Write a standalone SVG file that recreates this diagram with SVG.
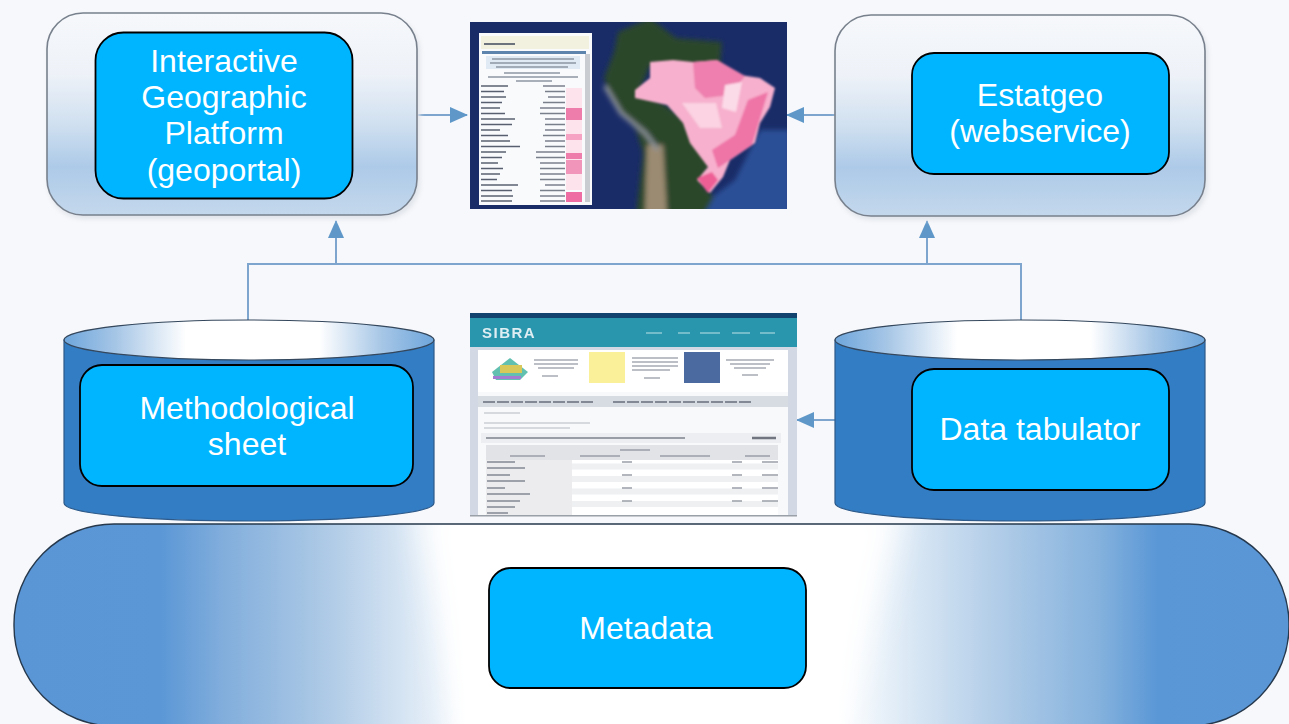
<svg xmlns="http://www.w3.org/2000/svg" width="1289" height="724" viewBox="0 0 1289 724">
<style>
.box{fill:#00b5ff;stroke:#000;stroke-width:1.800}
.lbl{font-family:"Liberation Sans",Arial,sans-serif;font-size:32px;fill:#fff;text-anchor:middle}
.panel{fill:url(#panelG);stroke:#77808c;stroke-width:1.600}
.capE{fill:url(#topG);stroke:#34475c;stroke-width:1.200}
.cyl{fill:#337dc4;stroke:#2d5a8a;stroke-width:1.200}
.conn{fill:none;stroke:#7ea5cd;stroke-width:2}
.arr{marker-end:url(#ah)}
.shadow{fill:#e0e4ea;filter:url(#softer)}
</style>
<defs>
<linearGradient id="panelG" x1="0" y1="0" x2="0" y2="1">
<stop offset="0" stop-color="#f6f8fb"/><stop offset=".3" stop-color="#eef2f8"/><stop offset=".55" stop-color="#d0e0f0"/><stop offset=".76" stop-color="#adcae8"/><stop offset="1" stop-color="#c4d8ec"/>
</linearGradient>
<linearGradient id="topG" x1="0" y1="0" x2="1" y2="0">
<stop offset="0" stop-color="#6ea6dc"/><stop offset=".14" stop-color="#a6c6e6"/><stop offset=".33" stop-color="#ffffff"/><stop offset=".69" stop-color="#ffffff"/><stop offset=".86" stop-color="#a6c6e6"/><stop offset="1" stop-color="#6ea6dc"/>
</linearGradient>
<linearGradient id="capG" gradientUnits="userSpaceOnUse" x1="14" y1="0" x2="1289" y2="0">
<stop offset="0" stop-color="#5a96d6"/><stop offset=".115" stop-color="#5b97d6"/><stop offset=".165" stop-color="#82aedc"/><stop offset=".245" stop-color="#aecae6"/><stop offset=".33" stop-color="#e6eff8"/><stop offset=".355" stop-color="#ffffff"/><stop offset=".645" stop-color="#ffffff"/><stop offset=".69" stop-color="#e2edf7"/><stop offset=".77" stop-color="#b2cde8"/><stop offset=".85" stop-color="#85b2dd"/><stop offset=".897" stop-color="#5a97d6"/><stop offset="1" stop-color="#5a96d6"/>
</linearGradient>
<clipPath id="capClip"><rect x="14" y="524" width="1275" height="202" rx="100"/></clipPath>
<clipPath id="mapClip"><rect x="470" y="22" width="317" height="187"/></clipPath>
<marker id="ah" markerUnits="userSpaceOnUse" markerWidth="18" markerHeight="16" refX="17" refY="8" orient="auto">
<path d="M0 0L18 8L0 16Z" fill="#5f97c9"/>
</marker>
<filter id="faint" x="-5%" y="-5%" width="110%" height="110%"><feGaussianBlur stdDeviation=".7"/></filter>
<filter id="soft" x="-5%" y="-5%" width="110%" height="110%"><feGaussianBlur stdDeviation="1.200"/></filter>
<filter id="softer" x="-5%" y="-5%" width="110%" height="110%"><feGaussianBlur stdDeviation="2.500"/></filter>
<filter id="wide" x="-20%" y="-20%" width="140%" height="140%"><feGaussianBlur stdDeviation="16"/></filter>
</defs>
<rect width="1289" height="724" fill="#f7f8fb"/>

<g id="connectors">
<path class="conn" d="M248 322V264H1021V322"/>
<path class="conn arr" d="M336 264V221"/>
<path class="conn arr" d="M927 264V221"/>
<path class="conn arr" d="M418 115H467"/>
<path class="conn arr" d="M835 115H787"/>
<path class="conn arr" d="M835 420H797"/>
</g>

<g id="geoportal">
<rect class="shadow" x="48" y="16" width="372" height="203" rx="36"/>
<rect class="panel" x="47" y="13" width="370" height="202" rx="36"/>
<rect class="box" x="95.500" y="32.500" width="257" height="166" rx="28"/>
<text class="lbl" x="224" y="72">Interactive</text>
<text class="lbl" x="224" y="108">Geographic</text>
<text class="lbl" x="224" y="144">Platform</text>
<text class="lbl" x="224" y="181">(geoportal)</text>
</g>

<g id="estatgeo">
<rect class="shadow" x="836" y="18" width="372" height="202" rx="36"/>
<rect class="panel" x="835" y="15" width="370" height="201" rx="36"/>
<rect class="box" x="912" y="53" width="257" height="121" rx="22"/>
<text class="lbl" x="1040" y="106">Estatgeo</text>
<text class="lbl" x="1040" y="142">(webservice)</text>
</g>

<g id="map-image">
<rect x="470" y="22" width="317" height="187" fill="#1a2c68"/>
<g clip-path="url(#mapClip)">
<g filter="url(#softer)">
<path d="M700 215L790 215L790 130L760 130L735 180L715 195Z" fill="#2a4f96"/>
<path d="M618 32L650 18L676 38L722 42L720 66L650 66L640 90L664 104L692 124L712 165L702 183L714 197L704 215L636 215L643 153L636 130L612 100L604 78L614 52Z" fill="#29472c"/>
<path d="M647 145L663 145L667 215L645 215Z" fill="#9b8b72"/>
<path d="M605 86L621 113L645 133L658 150" stroke="#8b9198" stroke-width="4" fill="none"/>
</g>
<g filter="url(#soft)">
<path d="M635 90L650 78L650 62L673 60L693 62L717 60L740 75L760 78L775 88L770 107L760 123L755 143L730 160L723 177L710 193L697 180L708 167L690 143L683 123L667 105L635 98Z" fill="#f7b0cd"/>
<path d="M693 62L717 60L745 76L730 95L705 98L695 88Z" fill="#ee7fae"/>
<path d="M748 100L768 92L758 125L752 145L730 160L718 168L712 150L735 135Z" fill="#ef74a7"/>
<path d="M697 178L712 172L718 180L708 193Z" fill="#ee5f96"/>
<path d="M725 85L742 82L736 112L722 108Z" fill="#fcdbe8"/>
<path d="M682 103L716 103L722 128L700 128Z" fill="#fbd3e2"/>
</g>
</g>
<g filter="url(#faint)">
<rect x="479" y="33" width="113" height="172" fill="#f8fafc"/>
<rect x="481" y="36" width="108" height="13" fill="#f2f1df"/>
<path d="M484 44H515" stroke="#6d737c" stroke-width="2"/>
<rect x="482" y="51" width="104" height="3" fill="#5c84ad"/>
<rect x="486" y="56" width="94" height="13" fill="#dfeaf5"/>
<path d="M492 59H574M490 63H576M496 67H568M504 73H560M488 77H578M516 81H552" stroke="#8d96a2" stroke-width="1.300" fill="none"/>
<rect x="585" y="54" width="5" height="148" fill="#c9ccd0"/>
<rect x="566" y="88" width="16" height="102" fill="#fce3ec"/>
<rect x="566" y="108" width="16" height="12" fill="#ef7dac"/>
<rect x="566" y="134" width="16" height="6" fill="#f5a2c3"/>
<rect x="566" y="153" width="16" height="6" fill="#ef7dac"/>
<rect x="566" y="160" width="16" height="14" fill="#f295ba"/>
<rect x="566" y="192" width="16" height="10" fill="#ee6da2"/>
<path d="M481 86H508M481 91.500H504M481 97H506M481 102.500H502M481 108H500M481 113.500H505M481 119H515M481 124.500H512M481 130H500M481 135.500H508M481 141H510M481 146.500H520M481 152H506M481 157.500H502M481 163H498M481 168.500H503M481 174H500M481 179.500H497M481 185H518M481 190.500H512M481 196H513M481 201H512" stroke="#596170" stroke-width="1.600" fill="none"/>
<path d="M543 86H565M545 91.500H565M548 97H565M543 102.500H565M540 108H565M540 113.500H565M545 119H565M545 124.500H565M545 130H565M543 135.500H565M545 141H565M545 146.500H565M536 152H565M536 157.500H565M540 163H565M540 168.500H565M540 174H565M540 179.500H565M545 185H565M540 190.500H565M540 196H565M540 201H565" stroke="#79808c" stroke-width="1.500" fill="none"/>
</g>
</g>

<g id="sibra-image">
<rect x="470" y="313" width="327" height="203" fill="#d3d9e4"/>
<rect x="478" y="350" width="310" height="166" fill="#f8f9fb" filter="url(#faint)"/>
<rect x="470" y="313" width="327" height="5" fill="#12436f"/>
<rect x="470" y="318" width="327" height="29" fill="#2a96ae"/>
<g filter="url(#faint)">
<text x="482" y="338" font-family="Liberation Sans,Arial,sans-serif" font-size="15" font-weight="bold" letter-spacing="1.500" fill="#dfeef3">SIBRA</text>
<path d="M646 333H662M678 333H690M700 333H720M732 333H750M760 333H775" stroke="#74bccb" stroke-width="2" fill="none"/>
<rect x="478" y="350" width="310" height="42" fill="#fff"/>
<path d="M492 372L510 358L528 372L520 380L496 380Z" fill="#62c0b0"/>
<rect x="500" y="365" width="22" height="8" fill="#d8c85a"/>
<rect x="493" y="376" width="28" height="3" fill="#a27bd0"/>
<rect x="589" y="352" width="36" height="31" fill="#fbf09a"/>
<rect x="684" y="352" width="36" height="31" fill="#4c6a9f"/>
<path d="M534 360H578M534 364H578M538 368H574M542 376H558M632 358H678M632 362H678M632 366H678M632 370H670M644 378H660M726 360H774M730 364H770M734 368H766M742 375H758" stroke="#a6abb2" stroke-width="1.300" fill="none"/>
<rect x="478" y="396" width="310" height="11" fill="#d7dbe2"/>
<path d="M483 402H595M613 402H752" stroke="#838a96" stroke-width="2" stroke-dasharray="12 2" fill="none"/>
<path d="M484 413H520M484 423H590M484 428H570" stroke="#b4b9c0" stroke-width="1.100" fill="none"/>
<rect x="481" y="433" width="300" height="10" fill="#eceef1"/>
<path d="M486 438H685" stroke="#7c828d" stroke-width="1.600" fill="none"/>
<path d="M752 438H776" stroke="#6f7580" stroke-width="2.500" fill="none"/>
<rect x="486" y="445" width="292" height="71" fill="#ffffff"/>
<rect x="486" y="445" width="292" height="15" fill="#e1e3e6"/>
<path d="M486 466.500H778M486 479H778M486 491.500H778M486 504H778" stroke="#eef0f2" stroke-width="6" fill="none"/>
<rect x="486" y="460" width="86" height="56" fill="#ececee"/>
<path d="M487 462H515M487 468H525M487 475H510M487 481H525M487 488H505M487 494H530M487 501H520M487 507H515M487 513H508" stroke="#838892" stroke-width="1.400" fill="none"/>
<path d="M620 450H650M510 456H545M580 456H620M660 456H710M745 456H770M622 462H632M622 475H632M622 488H632M622 501H632M732 462H742M732 475H742M732 488H742M732 501H742M762 462H778M762 475H778M762 488H778M762 501H778" stroke="#9a9fa8" stroke-width="1.300" fill="none"/>
</g>
<rect x="470" y="515" width="327" height="1.500" fill="#9aa0a8"/>
</g>

<g id="methodological-sheet">
<path class="cyl" d="M64 340V503C64 514 150 521 249 521S434 514 434 503V340Z"/>
<ellipse class="capE" cx="249" cy="340" rx="185" ry="20"/>
<rect class="box" x="80" y="365" width="333" height="121" rx="22"/>
<text class="lbl" x="247" y="419">Methodological</text>
<text class="lbl" x="247" y="455">sheet</text>
</g>

<g id="data-tabulator">
<path class="cyl" d="M835 340V503C835 514 921 521 1020 521S1205 514 1205 503V340Z"/>
<ellipse class="capE" cx="1020" cy="340" rx="185" ry="20"/>
<rect class="box" x="912" y="369" width="257" height="121" rx="22"/>
<text class="lbl" x="1040" y="440">Data tabulator</text>
</g>

<g id="metadata">
<rect x="14" y="524" width="1275" height="202" rx="100" fill="url(#capG)"/>
<g clip-path="url(#capClip)"><path d="M415 500L905 500L835 750L465 750Z" fill="#fff" filter="url(#wide)"/></g>
<rect x="14" y="524" width="1275" height="202" rx="100" fill="none" stroke="#26384c" stroke-width="1.400"/>
<rect class="box" x="489" y="568" width="317" height="120" rx="22"/>
<text class="lbl" x="646" y="639">Metadata</text>
</g>
</svg>
